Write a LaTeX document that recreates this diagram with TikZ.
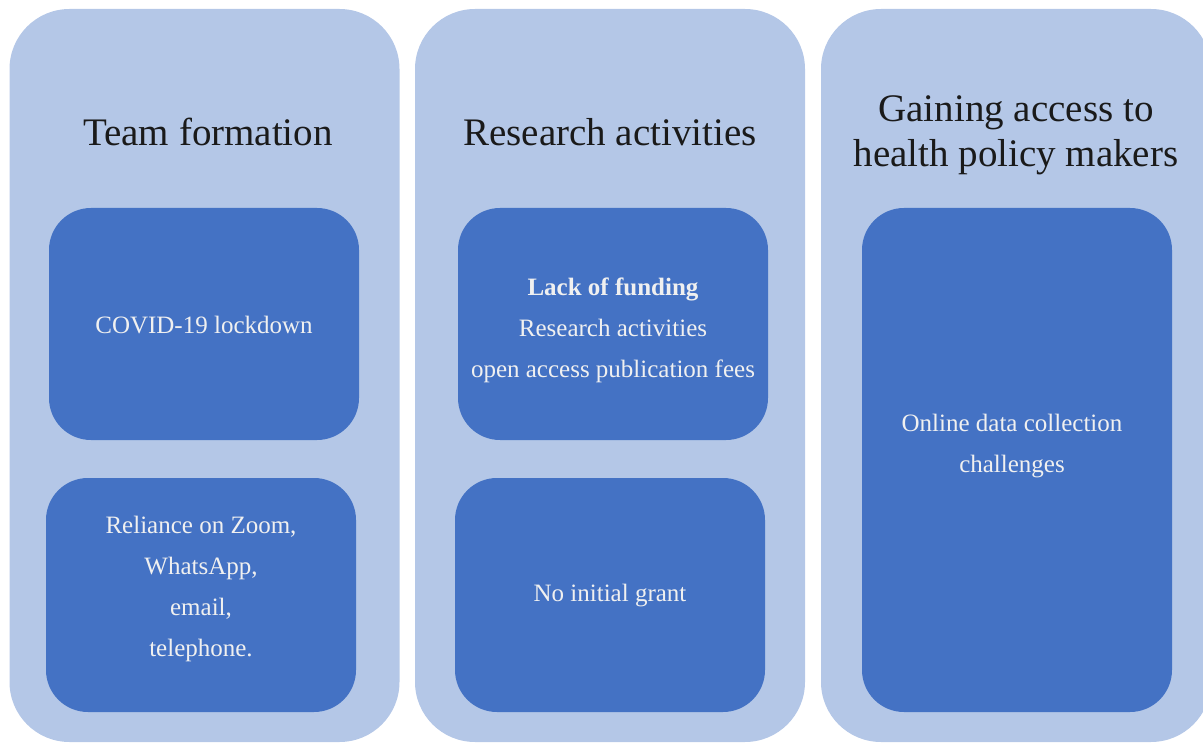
\documentclass[tikz,border=0pt]{standalone}
\usepackage{fontspec}
\setmainfont{Liberation Serif}
\definecolor{lightcol}{HTML}{B4C7E7}
\definecolor{darkbox}{HTML}{4472C4}
\definecolor{titlecol}{HTML}{1A1A1A}
\tikzset{
  colbox/.style={fill=lightcol, draw=none, rounded corners=60pt, minimum width=390pt, minimum height=733pt, inner sep=0pt},
  innerbox/.style={fill=darkbox, draw=none, rounded corners=42pt, minimum width=310pt, inner sep=0pt},
  title/.style={text=titlecol, font=\fontsize{39}{45}\selectfont, align=center, inner sep=0pt},
  boxtext/.style={text=white!94!black, font=\fontsize{25}{41}\selectfont, align=center, inner sep=0pt}
}
\begin{document}
\begin{tikzpicture}[x=1pt,y=-1pt]
\useasboundingbox (0,0) rectangle (1203,743);
\begin{scope}
\clip (0,0) rectangle (1203,743);
\node[colbox] (c1) at (204.5,375.5) {};
\node[colbox] (c2) at (610,375.5) {};
\node[colbox] (c3) at (1016,375.5) {};
\node[innerbox, minimum height=232pt] (b11) at (204,324) {};
\node[innerbox, minimum height=234pt] (b12) at (201,595) {};
\node[innerbox, minimum height=232pt] (b21) at (613,324) {};
\node[innerbox, minimum height=234pt] (b22) at (610,595) {};
\node[innerbox, minimum height=504pt] (b3) at (1017,460) {};
\end{scope}
\node[title] (t1) at (208,132) {Team formation};
\node[title] (t2) at (610,132) {Research activities};
\node[title] (t3) at (1016,135) {Gaining access to\\health policy makers};
\node[boxtext] (x11) at (204,325) {COVID-19 lockdown};
\node[boxtext] (x12) at (201,589) {Reliance on Zoom,\\WhatsApp,\\email,\\telephone.};
\node[boxtext] (x21) at (613,330) {\textbf{Lack of funding}\\Research activities\\open access publication fees};
\node[boxtext] (x22) at (610,596) {No initial grant};
\node[boxtext] (x3) at (1012,446) {Online data collection\\challenges};
\end{tikzpicture}
\end{document}
